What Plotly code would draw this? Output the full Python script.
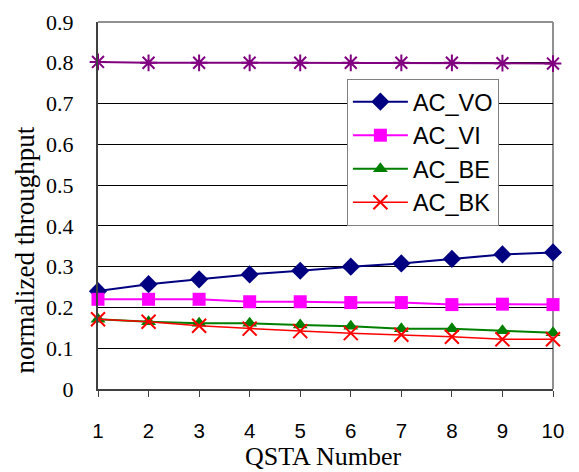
import plotly.graph_objects as go

qsta = [1, 2, 3, 4, 5, 6, 7, 8, 9, 10]
ac_vo = [0.240, 0.257, 0.269, 0.281, 0.290, 0.300, 0.308, 0.319, 0.330, 0.335]
ac_vi = [0.220, 0.220, 0.220, 0.214, 0.214, 0.212, 0.212, 0.207, 0.208, 0.207]
ac_be = [0.171, 0.165, 0.161, 0.161, 0.157, 0.154, 0.148, 0.148, 0.143, 0.138]
ac_bk = [0.171, 0.165, 0.155, 0.148, 0.142, 0.137, 0.133, 0.128, 0.122, 0.122]
total = [0.802, 0.800, 0.800, 0.800, 0.800, 0.800, 0.800, 0.800, 0.799, 0.798]
y_ticks = [0, 0.1, 0.2, 0.3, 0.4, 0.5, 0.6, 0.7, 0.8, 0.9]
y_ticklabels = ["0", "0.1", "0.2", "0.3", "0.4", "0.5", "0.6", "0.7", "0.8", "0.9"]
x_title = "QSTA Number"
y_title = "normalized throughput"

SERIF = "Liberation Serif, Times New Roman, serif"
SANS = "Liberation Sans, Arial, sans-serif"

fig = go.Figure()
fig.add_trace(go.Scatter(x=qsta, y=total, mode="lines+markers", showlegend=False,
                         line=dict(color="#800080", width=2),
                         marker=dict(symbol="asterisk-open", size=14, color="#800080",
                                     line=dict(color="#800080", width=2)),
                         cliponaxis=False))
fig.add_trace(go.Scatter(x=qsta, y=ac_vo, mode="lines+markers", name="AC_VO",
                         line=dict(color="#000080", width=2),
                         marker=dict(symbol="diamond", size=14, color="#000080"),
                         cliponaxis=False))
fig.add_trace(go.Scatter(x=qsta, y=ac_vi, mode="lines+markers", name="AC_VI",
                         line=dict(color="#FF00FF", width=2),
                         marker=dict(symbol="square", size=13, color="#FF00FF"),
                         cliponaxis=False))
fig.add_trace(go.Scatter(x=qsta, y=ac_be, mode="lines+markers", name="AC_BE",
                         line=dict(color="#008000", width=2),
                         marker=dict(symbol="triangle-up", size=13, color="#008000"),
                         cliponaxis=False))
fig.add_trace(go.Scatter(x=qsta, y=ac_bk, mode="lines+markers", name="AC_BK",
                         line=dict(color="#FF0000", width=1.5),
                         marker=dict(symbol="x-thin-open", size=14, color="#FF0000",
                                     line=dict(color="#FF0000", width=2)),
                         cliponaxis=False))

fig.update_layout(
    width=579, height=472,
    margin=dict(l=98, r=26, t=22, b=83),
    paper_bgcolor="white", plot_bgcolor="white",
    legend=dict(x=0.547, y=0.845, xanchor="left", yanchor="top",
                bgcolor="white", bordercolor="#808080", borderwidth=1,
                font=dict(family=SANS, size=23.5, color="black"),
                itemwidth=55, tracegroupgap=0),
)
fig.update_xaxes(range=[1, 10], tickvals=qsta, ticks="outside", ticklen=6,
                 tickcolor="#404040", tickwidth=1, showline=True, linecolor="#404040", linewidth=2,
                 showgrid=False, zeroline=False, ticklabelstandoff=16, automargin=False,
                 tickfont=dict(family=SANS, size=20.5, color="black"))
fig.update_yaxes(range=[0, 0.9], tickvals=y_ticks, ticktext=y_ticklabels,
                 ticks="", showline=True, linecolor="#404040", linewidth=2,
                 showgrid=True, gridcolor="black", gridwidth=1, zeroline=False,
                 ticklabelstandoff=18, automargin=False,
                 tickfont=dict(family=SERIF, size=22, color="black"))
# axis titles
fig.add_annotation(text=x_title, xref="paper", yref="paper", x=0.5, y=0,
                   xanchor="center", yanchor="middle", xshift=-3, yshift=-67,
                   borderpad=0,
                   showarrow=False, font=dict(family=SERIF, size=26, color="black"))
fig.add_annotation(text=y_title, xref="paper", yref="paper", x=0, y=0.5,
                   xanchor="center", yanchor="middle", xshift=-74, yshift=-45,
                   textangle=-90, showarrow=False,
                   font=dict(family=SERIF, size=27, color="black"))
# top and right borders of plot area
fig.add_shape(type="line", xref="paper", yref="paper", x0=1, x1=1, y0=0, y1=1,
              line=dict(color="#909090", width=2), layer="below")
fig.add_shape(type="line", xref="paper", yref="paper", x0=0, x1=1, y0=1, y1=1,
              line=dict(color="#909090", width=2), layer="below")
fig.write_html("out.html")
